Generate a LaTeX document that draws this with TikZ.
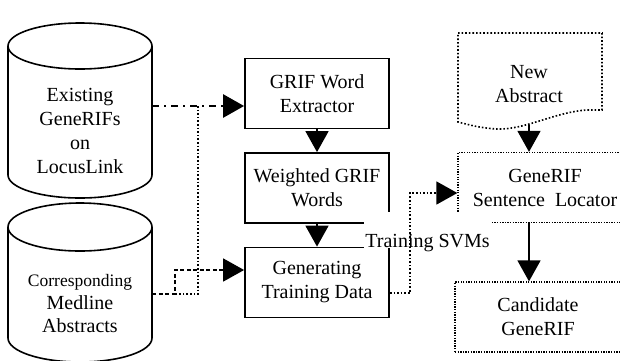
\documentclass[tikz,border=0pt]{standalone}
\usepackage{fontspec}
\setmainfont{Liberation Serif}
\usetikzlibrary{arrows.meta}
\begin{document}
\begin{tikzpicture}[x=1pt, y=-1pt, thick,
	every node/.style={font=\fontsize{20}{24}\selectfont},
	drum/.style={line width=1.6pt},
	proc/.style={draw, line width=1.8pt, minimum width=144pt, minimum height=70pt, inner sep=0pt, align=center},
	dotbox/.style={draw, line width=1.3pt, dash pattern=on 1.3pt off 1.3pt, minimum height=70pt, inner sep=0pt, align=center},
	txt/.style={align=center, inner sep=0pt},
	svmlabel/.style={fill=white, inner xsep=1pt, inner ysep=0pt, text height=35pt, text depth=1pt},
	arr/.style={-{Triangle[width=23pt,length=21pt]}},
	dashdot/.style={line width=2.6pt, dash pattern=on 7pt off 5pt on 2pt off 5pt},
	dotline/.style={line width=1.6pt, dash pattern=on 1.6pt off 2pt},
	dashline/.style={line width=1.6pt, dash pattern=on 4pt off 2.5pt},
	solidline/.style={line width=1.6pt}]
	
	\useasboundingbox (0,0) rectangle (620,360);
	
	% sources (drums)
	\draw[drum] (80,46) ellipse [x radius=72, y radius=23];
	\draw[drum] (8,46) -- (8,175) arc[start angle=180, end angle=0, x radius=72, y radius=23] -- (152,46);
	\node[txt, minimum width=144pt] (exist) at (80,131) {Existing\\GeneRIFs\\on\\LocusLink};
	\draw[drum] (80,227) ellipse [x radius=72, y radius=24];
	\draw[drum] (8,227) -- (8,338) arc[start angle=180, end angle=0, x radius=72, y radius=24] -- (152,227);
	\node[txt, minimum width=144pt] (medl) at (80,304) {{\fontsize{17.5}{21}\selectfont Corresponding}\\[-1pt]Medline\\[-1pt]Abstracts};
	
	% training side
	\node[proc] (extr) at (317,93.5) {GRIF Word\\Extractor};
	\node[proc] (wgt) at (317,188) {Weighted GRIF\\Words};
	\node[proc] (gen) at (317,282.5) {Generating\\Training Data};
	
	% locating side
	\draw[dotline] (458,33) -- (602,33) -- (602,110) -- (587,110)
		.. controls (555,112) and (525,130) .. (497,129)
		.. controls (480,128) and (470,125) .. (458,122) -- cycle;
	\node[txt, minimum width=144pt, minimum height=82pt] (newabs) at (529,84) {New\\Abstract};
	\node[dotbox, minimum width=174pt] (loc) at (545,187.5) {GeneRIF\\Sentence\hspace{5pt} Locator};
	\node[dotbox, minimum width=166pt] (cand) at (538,317) {Candidate\\GeneRIF};
	
	\node[svmlabel, anchor=base west] (svm) at (364,247) {Training SVMs};
	
	\coordinate (s1) at (198,106);
	\coordinate (s2) at (198,294);
	\coordinate (s3) at (175,294);
	\coordinate (s4) at (175,270);
	\coordinate (s5) at (410,293);
	\coordinate (s6) at (410,193);
	
	\draw[dashdot, arr] (exist.east |- s1) -- (extr.west |- s1);
	\draw[dotline] (s1) -- (s2) -- (s3);
	\draw[dashline, arr] (medl.east |- s3) -- (s3) -- (s4) -- (gen.west |- s4);
	\draw[solidline, arr] (extr) -- (wgt);
	\draw[solidline, arr] (wgt) -- (gen);
	\draw[dotline, arr] (gen.east |- s5) -- (s5) -- (s6) -- (loc.west |- s6);
	\draw[solidline, arr] (newabs.south) -- (newabs.south |- loc.north);
	\draw[solidline, arr] (loc.south -| newabs.south) -- (cand.north -| newabs.south);
	
\end{tikzpicture}
\end{document}
